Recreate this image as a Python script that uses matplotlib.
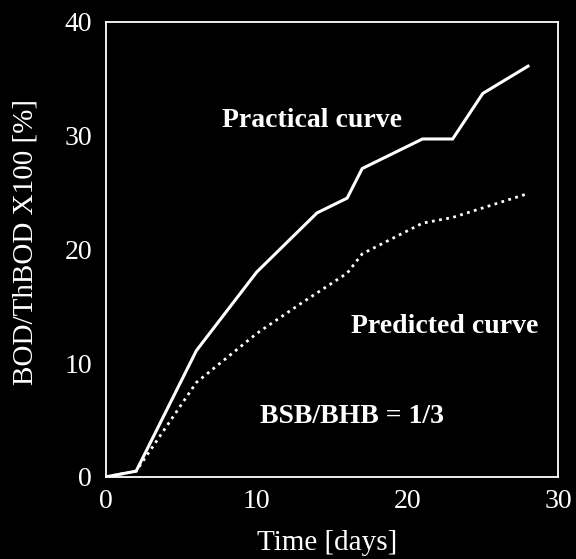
import matplotlib
matplotlib.use("Agg")
import matplotlib.pyplot as plt

# BOD consumption over time
days_practical = [0, 2, 6, 10, 14, 16, 17, 21, 23, 25, 28]
bod_practical = [0, 0.5, 11.1, 18.0, 23.2, 24.5, 27.1, 29.7, 29.7, 33.7, 36.1]

days_predicted = [0, 2, 6, 10, 13, 16, 17, 21, 23, 28]
bod_predicted = [0, 0.5, 8.3, 12.6, 15.3, 17.9, 19.6, 22.3, 22.8, 24.9]

x_ticks = [0, 10, 20, 30]
y_ticks = [0, 10, 20, 30, 40]

plt.rcParams["font.family"] = ["Liberation Serif", "DejaVu Serif"]

fig = plt.figure(figsize=(5.76, 5.59), dpi=100, facecolor="black")
ax = fig.add_axes([0.184, 0.147, 0.785, 0.814], facecolor="black")

ax.plot(days_practical, bod_practical, color="white", lw=2.2, solid_joinstyle="miter")
ax.plot(days_predicted, bod_predicted, color="white", lw=2.0, linestyle=(0, (1, 1.6)))

ax.set_xlim(0, 30)
ax.set_ylim(0, 40)
ax.set_xticks(x_ticks)
ax.set_yticks(y_ticks)
ax.tick_params(colors="white", labelcolor="white", labelsize=20, length=0)
ax.tick_params(axis="x", pad=9)
ax.tick_params(axis="y", pad=10)
for s in ax.spines.values():
    s.set_color("white")
    s.set_linewidth(1.3)

ax.set_xlabel("Time [days]", color="white", fontsize=21, va="center")
ax.xaxis.set_label_coords(0.49, -0.145)
ax.set_ylabel("BOD/ThBOD X100 [%]", color="white", fontsize=21, va="center")
ax.yaxis.set_label_coords(-0.178, 0.515)

ax.text(13.7, 31.3, "Practical curve", color="white", fontsize=20, fontweight="bold",
        ha="center", va="center")
ax.text(22.5, 13.2, "Predicted curve", color="white", fontsize=20, fontweight="bold",
        ha="center", va="center")
ax.text(16.3, 5.3, "BSB/BHB = 1/3", color="white", fontsize=20, fontweight="bold",
        ha="center", va="center")

fig.savefig("out.png", dpi=100, facecolor="black")
